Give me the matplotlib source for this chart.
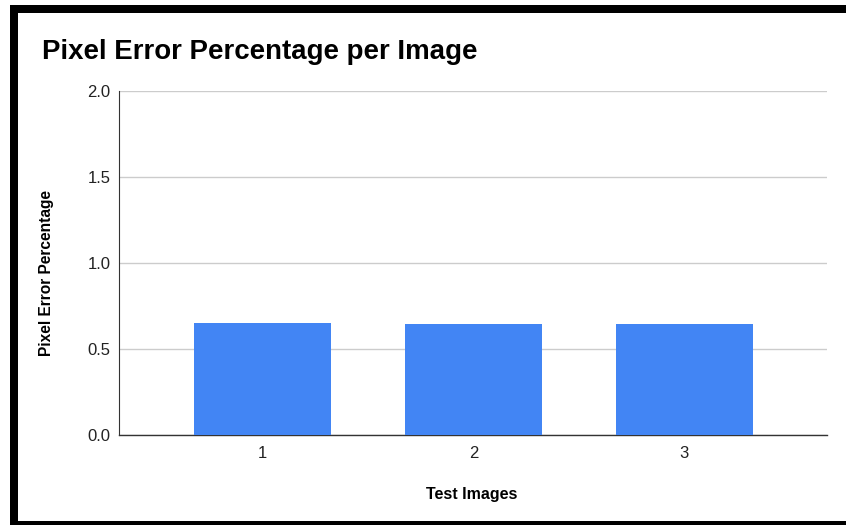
import matplotlib
matplotlib.use("Agg")
import matplotlib.pyplot as plt
from matplotlib.patches import Rectangle

plt.rcParams['font.family'] = ['Liberation Sans', 'DejaVu Sans']

categories = ["1", "2", "3"]
values = [0.653, 0.644, 0.645]
y_ticks = [0.0, 0.5, 1.0, 1.5, 2.0]
y_tick_labels = ["0.0", "0.5", "1.0", "1.5", "2.0"]

W, H = 846, 525
fig = plt.figure(figsize=(W / 100, H / 100), dpi=100)
fig.patch.set_facecolor("white")

def px(x0, y0, x1, y1):
    return [x0 / W, 1 - y1 / H, (x1 - x0) / W, (y1 - y0) / H]

# black frame around the chart card
for (x0, y0, x1, y1) in [(10, 5, 846, 13), (10, 5, 18, 525), (10, 521, 846, 525)]:
    l, b, w, h = px(x0, y0, x1, y1)
    fig.add_artist(Rectangle((l, b), w, h, transform=fig.transFigure,
                             facecolor="black", edgecolor="none", zorder=10))

ax = fig.add_axes(px(119, 91, 827, 435))
pos = list(range(len(categories)))
ax.bar(pos, values, width=0.65, color="#4285F4", zorder=3)

ax.set_xlim(-0.682, 2.678)
ax.set_ylim(0, 2.0)
ax.set_yticks(y_ticks)
ax.set_yticklabels(y_tick_labels)
ax.set_xticks(pos)
ax.set_xticklabels(categories)
ax.tick_params(axis="both", length=0, labelsize=12, colors="#222222")
ax.tick_params(axis="y", pad=6)
ax.tick_params(axis="x", pad=8)
ax.grid(axis="y", color="#cccccc", linewidth=1, zorder=0)
for s in ["top", "right"]:
    ax.spines[s].set_visible(False)
ax.spines["left"].set_color("#333333")
ax.spines["left"].set_linewidth(0.8)
ax.spines["bottom"].set_color("#333333")
ax.spines["bottom"].set_linewidth(1.0)

fig.text(42 / W, 1 - 52 / H, "Pixel Error Percentage per Image",
         fontsize=19.9, fontweight="bold", va="center", ha="left", color="black")
fig.text(47 / W, 1 - 273 / H, "Pixel Error Percentage", rotation=90,
         fontsize=11.2, fontweight="bold", va="center", ha="center", color="black")
fig.text(472 / W, 1 - 494 / H, "Test Images",
         fontsize=11.5, fontweight="bold", va="center", ha="center", color="black")

fig.savefig("out.png", dpi=100, facecolor="white")
